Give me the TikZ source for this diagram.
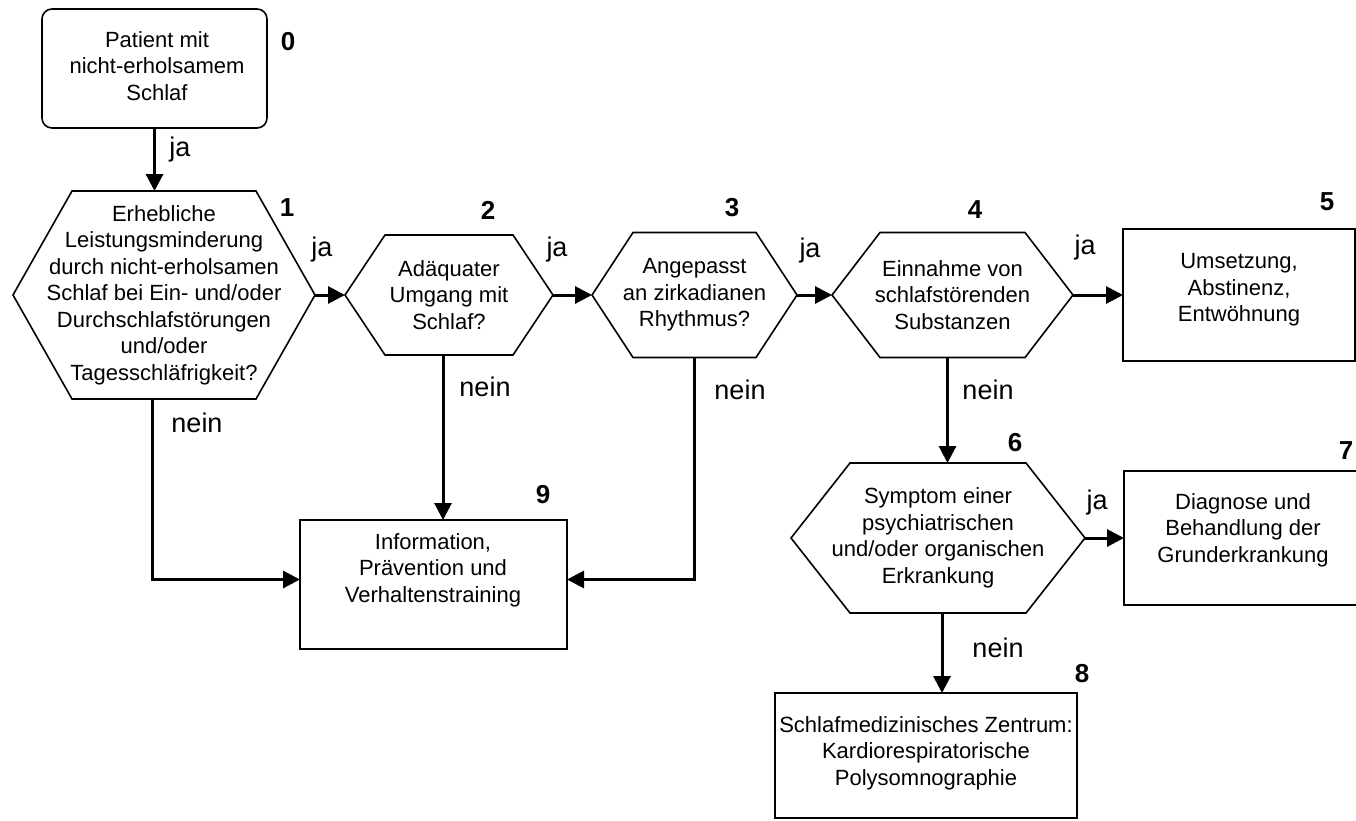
\documentclass[tikz,border=0pt]{standalone}
\usepackage{fontspec}
\setmainfont{Liberation Sans}
\usetikzlibrary{arrows.meta}
\newcommand\hexa[6]{%
  \node[hexbody, minimum width=#3, minimum height=#4] (#1) at #2 {#6};
  \draw[shp] (#1.west) -- ([xshift=#5]#1.north west) -- ([xshift=-#5]#1.north east)
    -- (#1.east) -- ([xshift=-#5]#1.south east) -- ([xshift=#5]#1.south west) -- cycle;}
\begin{document}
\begin{tikzpicture}[x=1pt,y=-1pt,
  every node/.style={inner sep=0pt, outer sep=0pt},
  txt/.style={font=\fontsize{22}{26.5}\selectfont, align=center},
  hexbody/.style={txt},
  shp/.style={line width=1.6pt, draw=black},
  boxshape/.style={draw=black, line width=1.6pt},
  conn/.style={line width=3pt, -{Triangle[length=17pt,width=17pt]}},
  lbl/.style={font=\fontsize{27}{30}\selectfont},
  num/.style={font=\bfseries\fontsize{26}{30}\selectfont}]
\useasboundingbox (0,0) rectangle (1356,820);

% node 0
\node[boxshape, rounded corners=10pt, minimum width=225pt, minimum height=119pt] (n0) at (154.5,68.5) {};
\node[txt] (t0) at (157,66) {Patient mit\\nicht-erholsamem\\Schlaf};

% hexagons
\hexa{h1}{(164,295)}{302pt}{208pt}{59pt}{Erhebliche\\Leistungsminderung\\durch nicht-erholsamen\\Schlaf bei Ein- und/oder\\Durchschlafstörungen\\und/oder\\Tagesschläfrigkeit?}
\hexa{h2}{(449,295)}{208pt}{120pt}{40pt}{Adäquater\\Umgang mit\\Schlaf?}
\hexa{h3}{(694.5,295)}{205pt}{125pt}{41pt}{Angepasst\\an zirkadianen\\Rhythmus?}
\hexa{h4}{(952.5,295)}{241pt}{125pt}{48pt}{Einnahme von\\schlafstörenden\\Substanzen}
\hexa{h6}{(938,538)}{294pt}{150pt}{59pt}{Symptom einer\\psychiatrischen\\und/oder organischen\\Erkrankung}

% boxes
\node[boxshape, minimum width=232pt, minimum height=132pt] (n5) at (1239,295) {};
\node[txt] (t5) at (1239,290) {Umsetzung,\\Abstinenz,\\Entwöhnung};
\node[boxshape, minimum width=241pt, minimum height=134pt] (n7) at (1244.5,538) {};
\node[txt] (t7) at (1243,530) {Diagnose und\\Behandlung der\\Grunderkrankung};
\node[boxshape, minimum width=302pt, minimum height=125pt] (n8) at (926,755.5) {};
\node[txt] (t8) at (926,753) {Schlafmedizinisches Zentrum:\\Kardiorespiratorische\\Polysomnographie};
\node[boxshape, minimum width=267pt, minimum height=129pt] (n9) at (433.5,584.5) {};
\node[txt] (t9) at (433,570) {Information,\\Prävention und\\Verhaltenstraining};

% connectors
\draw[conn] (n0.south) -- (n0.south |- h1.north);
\draw[conn] (h1.east) -- (h2.west);
\draw[conn] (h2.east) -- (h3.west);
\draw[conn] (h3.east) -- (h4.west);
\draw[conn] (h4.east) -- (n5.west);
\coordinate (c4) at ([xshift=-5pt]h4.south);
\draw[conn] (c4) -- (c4 |- h6.north);
\draw[conn] (h6.east) -- (n7.west);
\coordinate (c6) at ([xshift=4pt]h6.south);
\draw[conn] (c6) -- (c6 |- n8.north);
\coordinate (c1) at ([xshift=-12pt]h1.south);
\coordinate (c9l) at ([yshift=5pt]n9.west);
\draw[conn] (c1) |- (c9l);
\coordinate (c2) at ([xshift=-6pt]h2.south);
\draw[conn] (c2) -- (c2 |- n9.north);
\coordinate (c9r) at ([yshift=5pt]n9.east);
\draw[conn] (h3.south) |- (c9r);

% labels
\node[lbl] (l01) at (180,150) {ja};
\node[lbl] (l12) at (322,250) {ja};
\node[lbl] (l23) at (557,250) {ja};
\node[lbl] (l34) at (810,251) {ja};
\node[lbl] (l45) at (1085,248) {ja};
\node[lbl] (l67) at (1097,503) {ja};
\node[lbl] (l19) at (197,423) {nein};
\node[lbl] (l29) at (485,387) {nein};
\node[lbl] (l39) at (740,390) {nein};
\node[lbl] (l46) at (988,390) {nein};
\node[lbl] (l68) at (998,648) {nein};

% numbers
\node[num] (k0) at (288,42) {0};
\node[num] (k1) at (287,208) {1};
\node[num] (k2) at (488,210) {2};
\node[num] (k3) at (732,208) {3};
\node[num] (k4) at (975,210) {4};
\node[num] (k5) at (1327,202) {5};
\node[num] (k6) at (1015,443) {6};
\node[num] (k7) at (1346,451) {7};
\node[num] (k8) at (1082,674) {8};
\node[num] (k9) at (543,495) {9};
\end{tikzpicture}
\end{document}
